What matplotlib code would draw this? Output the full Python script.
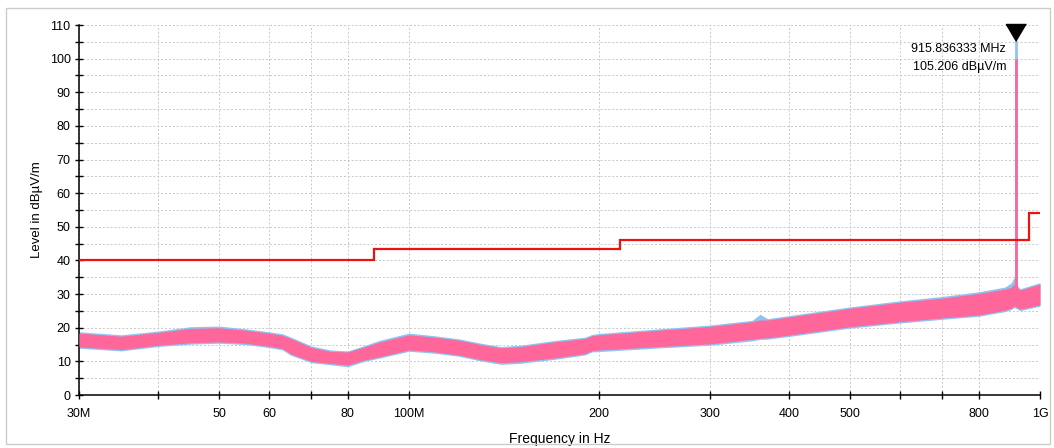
import matplotlib
matplotlib.use("Agg")
import matplotlib.pyplot as plt
from matplotlib.ticker import FixedLocator, NullLocator, MultipleLocator
from matplotlib.patches import Rectangle

# ---- data (frequency in MHz, level in dBuV/m) ----
freq_mhz = [30, 35, 40, 45, 50, 55, 60, 63, 65, 70, 75, 80, 85, 90, 100, 110, 120,
            130, 140, 150, 170, 190, 195, 200, 250, 300, 350, 360, 370, 400, 500,
            600, 700, 800, 880, 900, 910, 920, 930, 1000]
pink_hi = [18.4, 17.5, 18.6, 19.8, 20.0, 19.3, 18.4, 17.8, 16.8, 14.2, 13.0, 12.8,
           14.3, 15.8, 17.9, 17.2, 16.3, 15.0, 14.0, 14.4, 15.8, 16.8, 17.6, 17.9,
           19.3, 20.4, 21.8, 22.3, 22.3, 23.2, 25.8, 27.6, 28.8, 30.2, 31.5, 32.0,
           33.0, 32.0, 31.2, 33.0]
pink_lo = [14.3, 13.5, 14.8, 15.5, 15.8, 15.4, 14.5, 13.8, 12.2, 10.0, 9.4, 8.9,
           10.4, 11.4, 13.4, 12.8, 11.9, 10.5, 9.6, 9.9, 11.0, 12.3, 13.2, 13.4,
           14.4, 15.2, 16.6, 16.9, 17.0, 17.8, 20.3, 21.8, 22.9, 23.8, 25.2, 25.8,
           26.5, 26.0, 25.5, 26.8]
blue_hi = [18.8, 17.9, 19.0, 20.3, 20.5, 19.7, 18.8, 18.2, 17.2, 14.6, 13.4, 13.1,
           14.7, 16.3, 18.4, 17.6, 16.7, 15.4, 14.4, 14.8, 16.2, 17.2, 18.0, 18.3,
           19.7, 20.8, 22.2, 24.0, 22.7, 23.6, 26.2, 28.0, 29.3, 30.7, 32.1, 33.3,
           35.0, 32.6, 31.6, 33.4]
blue_lo = [13.9, 13.1, 14.4, 15.1, 15.4, 15.0, 14.1, 13.4, 11.8, 9.6, 9.0, 8.4,
           10.0, 11.0, 13.0, 12.4, 11.5, 10.1, 9.1, 9.4, 10.6, 11.9, 12.8, 12.9,
           14.0, 14.8, 16.1, 16.5, 16.6, 17.4, 19.9, 21.4, 22.5, 23.4, 24.8, 25.4,
           26.0, 25.6, 25.1, 26.4]

peak_freq = 915.836333
peak_level = 105.206
pink_peak_level = 100.0

limit_edges = [30, 88, 216, 960, 1000]
limit_levels = [40, 43.5, 46, 54]

grid_freqs = [30, 40, 50, 60, 70, 80, 100, 200, 300, 400, 500, 600, 700, 800, 1000]
label_freqs = [30, 50, 60, 80, 100, 200, 300, 400, 500, 800, 1000]
label_texts = ["30M", "50", "60", "80", "100M", "200", "300", "400", "500", "800", "1G"]

# ---- figure ----
plt.rcParams['font.family'] = ['Liberation Sans', 'DejaVu Sans']
fig = plt.figure(figsize=(10.54, 4.48), dpi=100)
ax = fig.add_axes([79/1054, 53/448, (1040-79)/1054, (395-25)/448])

blue = '#8ec4f4'
pink = '#ff6699'

ax.fill_between(freq_mhz, blue_lo, blue_hi, color=blue, lw=0, zorder=2)
ax.fill_between(freq_mhz, pink_lo, pink_hi, color=pink, lw=0, zorder=3)
ax.vlines(peak_freq, 30, peak_level, color=blue, lw=2.0, zorder=2)
ax.vlines(peak_freq, 30, pink_peak_level, color=pink, lw=2.0, zorder=3)

ax.stairs(limit_levels, limit_edges, baseline=None, color='#ee1111', lw=1.6, zorder=4)

# marker
tri = [(0, 0), (-0.59, 1), (0.59, 1)]
ax.plot([peak_freq], [peak_level], marker=tri, markersize=24.5, color='black',
        linestyle='none', clip_on=False, zorder=6)
ax.annotate(f"{peak_freq:.6f} MHz\n{peak_level:.3f} dB\u00b5V/m",
            xy=(peak_freq, peak_level), xytext=(-7, -1.5), textcoords='offset points',
            ha='right', va='top', fontsize=9, linespacing=1.65, zorder=7)

ax.set_xscale('log')
ax.set_xlim(30, 1000)
ax.set_ylim(0, 110)

ax.xaxis.set_major_locator(FixedLocator(grid_freqs))
ax.xaxis.set_minor_locator(NullLocator())
ax.set_xticks(grid_freqs)
ax.set_xticklabels([label_texts[label_freqs.index(f)] if f in label_freqs else "" for f in grid_freqs])
ax.yaxis.set_major_locator(MultipleLocator(10))
ax.yaxis.set_minor_locator(MultipleLocator(5))

ax.grid(True, which='both', color='#c8c8c8', linestyle=(0, (2, 2)), lw=0.7, zorder=0)
ax.set_axisbelow(True)

for s in ['top', 'right']:
    ax.spines[s].set_visible(False)
for s in ['left', 'bottom']:
    ax.spines[s].set_linewidth(1.1)
    ax.spines[s].set_color('black')

ax.tick_params(axis='both', which='major', direction='inout', length=6, width=1,
               labelsize=9, pad=3)
ax.tick_params(axis='y', which='minor', direction='inout', length=6, width=1)
ax.tick_params(axis='x', pad=6)

ax.set_ylabel("Level in dB\u00b5V/m", fontsize=9.5, labelpad=5)
ax.set_xlabel("Frequency in Hz", fontsize=10, labelpad=9)

fig.patches.append(Rectangle((6/1054, 4/448), 1044/1054, 436/448, transform=fig.transFigure,
                             fill=False, edgecolor='#cccccc', lw=1.0))

fig.savefig("out.png", dpi=100)
